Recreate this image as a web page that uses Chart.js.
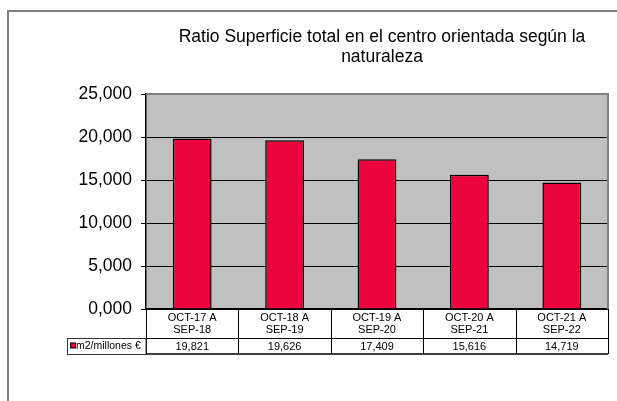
<!DOCTYPE html>
<html>
<head>
<meta charset="utf-8">
<script src="https://cdn.jsdelivr.net/npm/chart.js@4"></script>
<style>
  html, body { margin: 0; padding: 0; background: #fff; }
  #wrap { width: 617px; height: 401px; position: relative; }
</style>
</head>
<body>
<div id="wrap"><canvas id="myChart" width="617" height="401"></canvas></div>
<script>
// chart text
var titleLines = ["Ratio Superficie total en el centro orientada según la", "naturaleza"];
var seriesName = "m2/millones €";

// categories along the x-axis (two lines each, like the table header)
var periods = [
  ["OCT-17 A", "SEP-18"],
  ["OCT-18 A", "SEP-19"],
  ["OCT-19 A", "SEP-20"],
  ["OCT-20 A", "SEP-21"],
  ["OCT-21 A", "SEP-22"]
];
// values of the only series
var ratio = [19.821, 19.626, 17.409, 15.616, 14.719];

// y axis range
var yMin = 0, yMax = 25, yStep = 5;

var FONT = "'Liberation Sans', Arial, sans-serif";
var barRed = "#EA033D";

// spanish style decimals: 19.821 -> 19,821
function fmt(v) {
  return v.toFixed(3).replace(".", ",");
}

// draws the outer frame, plot background, title and the data table under the axis
var excelLook = {
  id: "excelLook",
  beforeDraw: function(chart) {
    var c = chart.ctx, a = chart.chartArea;
    c.save();
    // outer frame, runs off the right and bottom
    c.strokeStyle = "#808080";
    c.lineWidth = 2;
    c.strokeRect(8, 11, 700, 500);
    // grey plot area
    c.fillStyle = "#C0C0C0";
    c.fillRect(a.left, a.top, a.right - a.left, a.bottom - a.top);
    c.restore();
  },
  afterDraw: function(chart) {
    var c = chart.ctx, a = chart.chartArea;
    var x = chart.scales.x;
    var cx = (a.left + a.right) / 2 + 5;
    c.save();
    // title
    c.fillStyle = "#000";
    c.font = "17.5px " + FONT;
    c.textAlign = "center";
    c.textBaseline = "middle";
    titleLines.forEach(function(t, i) {
      c.fillText(t, cx, 37 + i * 20.5);
    });

    // plot border top/right
    c.strokeStyle = "#808080";
    c.lineWidth = 2;
    c.beginPath();
    c.moveTo(a.left, a.top);
    c.lineTo(a.right, a.top);
    c.lineTo(a.right, a.bottom);
    c.stroke();

    // table
    var hdrBottom = a.bottom + 29;
    var rowBottom = hdrBottom + 16;
    var n = periods.length;
    var w = (x.right - x.left) / n;
    c.strokeStyle = "#000";
    c.lineWidth = 1;
    c.beginPath();
    for (var i = 0; i <= n; i++) {
      var bx = Math.round(x.left + i * w) + 0.5;
      c.moveTo(bx, a.bottom);
      c.lineTo(bx, rowBottom);
    }
    c.moveTo(x.left, hdrBottom + 0.5);
    c.lineTo(x.right, hdrBottom + 0.5);
    c.stroke();
    c.lineWidth = 1.5;
    c.beginPath();
    c.moveTo(x.left, rowBottom);
    c.lineTo(x.right, rowBottom);
    c.stroke();

    // legend cell
    var legLeft = 67.5;
    c.strokeStyle = "#333";
    c.lineWidth = 1;
    c.strokeRect(legLeft, hdrBottom + 0.5, x.left - legLeft, rowBottom - hdrBottom);
    c.fillStyle = barRed;
    c.fillRect(legLeft + 3, hdrBottom + 5, 5, 5);
    c.strokeStyle = "#000";
    c.strokeRect(legLeft + 3, hdrBottom + 5, 5, 5);
    c.fillStyle = "#000";
    c.font = "10.5px " + FONT;
    c.textAlign = "left";
    c.fillText(seriesName, legLeft + 8.5, hdrBottom + 8.5);

    // values row
    c.font = "11px " + FONT;
    c.textAlign = "center";
    ratio.forEach(function(v, i) {
      c.fillText(fmt(v), x.getPixelForValue(i), hdrBottom + 8.5);
    });
    c.restore();
  }
};

var ctx = document.getElementById("myChart");
var myChart = new Chart(ctx, {
  type: "bar",
  data: {
    labels: periods,
    datasets: [{
      label: seriesName,
      data: ratio,
      backgroundColor: barRed,
      borderColor: "#000",
      borderWidth: 1.5,
      categoryPercentage: 1,
      barPercentage: 0.42
    }]
  },
  options: {
    responsive: false,
    animation: false,
    layout: { padding: { left: 0, right: 9, top: 94, bottom: 0 } },
    plugins: {
      legend: { display: false },
      title: { display: false },
      tooltip: { enabled: false }
    },
    scales: {
      x: {
        offset: true,
        grid: { display: false, drawTicks: false },
        border: { color: "#000", width: 1.5 },
        ticks: {
          color: "#000",
          font: { family: FONT, size: 11, lineHeight: 1.1 },
          padding: 3,
          maxRotation: 0,
          autoSkip: false
        },
        afterFit: function(s) { s.height = 92; }
      },
      y: {
        min: yMin,
        max: yMax,
        grid: { color: "#000", lineWidth: 1, tickLength: 5, tickColor: "#000" },
        border: { color: "#000", width: 1.5 },
        ticks: {
          stepSize: yStep,
          color: "#000",
          padding: 9,
          font: { family: FONT, size: 17.5 },
          callback: function(v) { return fmt(v); }
        },
        afterFit: function(s) { s.width = 146; }
      }
    }
  },
  plugins: [excelLook]
});
</script>
</body>
</html>
